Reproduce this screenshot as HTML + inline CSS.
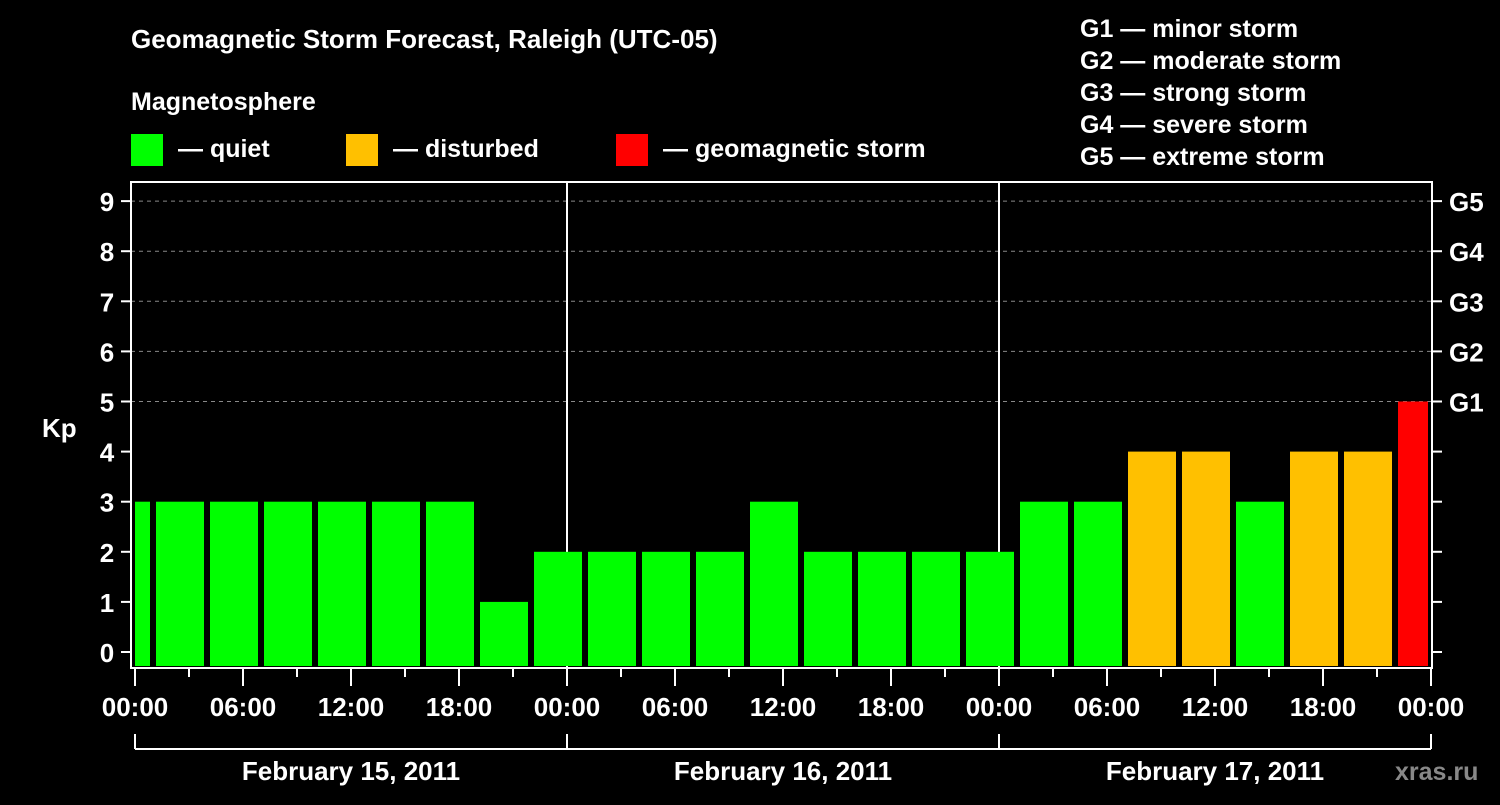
<!DOCTYPE html>
<html><head><meta charset="utf-8"><style>
body{margin:0;background:#000;width:1500px;height:800px;overflow:hidden}
svg text{font-family:"Liberation Sans",Arial,sans-serif;font-weight:bold;fill:#fff}
</style></head><body>
<svg id="chart" width="1500" height="800" viewBox="0 0 1500 800">
<rect width="1500" height="800" fill="#000"/>
<text x="131" y="48" font-size="26">Geomagnetic Storm Forecast, Raleigh (UTC-05)</text>
<text x="131" y="110" font-size="25">Magnetosphere</text>
<g><rect x="131" y="134" width="32" height="32" fill="#00ff00"/><text x="178" y="157" font-size="25">— quiet</text></g>
<g><rect x="346" y="134" width="32" height="32" fill="#ffc000"/><text x="393" y="157" font-size="25">— disturbed</text></g>
<g><rect x="616" y="134" width="32" height="32" fill="#ff0000"/><text x="663" y="157" font-size="25">— geomagnetic storm</text></g>
<g font-size="25">
<text x="1080" y="37">G1 — minor storm</text>
<text x="1080" y="69">G2 — moderate storm</text>
<text x="1080" y="101">G3 — strong storm</text>
<text x="1080" y="133">G4 — severe storm</text>
<text x="1080" y="165">G5 — extreme storm</text>
</g>
<text x="42" y="437" font-size="26">Kp</text>
<g id="grid"></g><g id="bars"></g><g id="axes"></g>
<text x="1395" y="780" font-size="25" fill="#888" style="fill:#888">xras.ru</text>
</svg>
<script>
const kpValues=[3,3,3,3,3,3,3,1,2,2,2,2,3,2,2,2,2,3,3,4,4,3,4,4,5];
const barStartHours=[-2,1,4,7,10,13,16,19,22,25,28,31,34,37,40,43,46,49,52,55,58,61,64,67,70];
const dayLabels=["February 15, 2011","February 16, 2011","February 17, 2011"];
const yTicks=[0,1,2,3,4,5,6,7,8,9];
const gLabels=["G1","G2","G3","G4","G5"];
const timeLabels=["00:00","06:00","12:00","18:00"];
const NS="http://www.w3.org/2000/svg";
const X0=135,PX_H=18,Y0=652,PX_K=50.1,PL=131,PR=1432,PT=182,PB=668;
const xs=h=>X0+h*PX_H, ys=k=>Y0-k*PX_K;
function mk(tag,attrs,parent,txt){const e=document.createElementNS(NS,tag);for(const k in attrs)e.setAttribute(k,attrs[k]);if(txt!==undefined)e.textContent=txt;document.getElementById(parent).appendChild(e);return e;}
// grid
for(let k=5;k<=9;k++){const l=mk('line',{x1:PL,x2:PR,y1:ys(k),y2:ys(k),stroke:'#888','stroke-dasharray':'4,4','stroke-width':1},'grid');

}
[1,2].forEach(d=>{const l=mk('line',{x1:xs(24*d),x2:xs(24*d),y1:PT,y2:PB,stroke:'#fff','stroke-width':2},'grid');

});
// bars
kpValues.forEach((v,i)=>{let a=Math.max(xs(barStartHours[i])+3,X0),b=Math.min(xs(barStartHours[i])+51,PR-4);
const c=v>=5?'#ff0000':v>=4?'#ffc000':'#00ff00';
const r=mk('rect',{x:a,y:ys(v),width:b-a,height:PB-2-ys(v),fill:c},'bars');

});
// frame
const f=mk('rect',{x:PL,y:PT,width:PR-PL,height:PB-PT,fill:'none',stroke:'#fff','stroke-width':2},'axes');


yTicks.forEach(k=>{mk('line',{x1:121,x2:PL,y1:ys(k),y2:ys(k),stroke:'#fff','stroke-width':2},'axes');
mk('line',{x1:PR,x2:PR+10,y1:ys(k),y2:ys(k),stroke:'#fff','stroke-width':2},'axes');
const t=mk('text',{x:107,y:ys(k)+10,'font-size':26,'text-anchor':'middle'},'axes',k);

});
gLabels.forEach((g,i)=>{const t=mk('text',{x:1449,y:ys(5+i)+10,'font-size':26},'axes',g);

});
for(let h=0;h<=72;h+=3){const major=h%6===0;mk('line',{x1:xs(h),x2:xs(h),y1:PB,y2:major?686:677,stroke:'#fff','stroke-width':2},'axes');
if(major){const lbl=timeLabels[(h%24)/6];const t=mk('text',{x:xs(h),y:716,'font-size':26,'text-anchor':'middle'},'axes',lbl);

}}
mk('line',{x1:xs(0),x2:xs(72),y1:749,y2:749,stroke:'#fff','stroke-width':2},'axes');
for(let d=0;d<=3;d++)mk('line',{x1:xs(24*d),x2:xs(24*d),y1:734,y2:749,stroke:'#fff','stroke-width':2},'axes');
dayLabels.forEach((s,d)=>{const t=mk('text',{x:xs(24*d+12),y:780,'font-size':26,'text-anchor':'middle'},'axes',s);

});
</script>
</body></html>
